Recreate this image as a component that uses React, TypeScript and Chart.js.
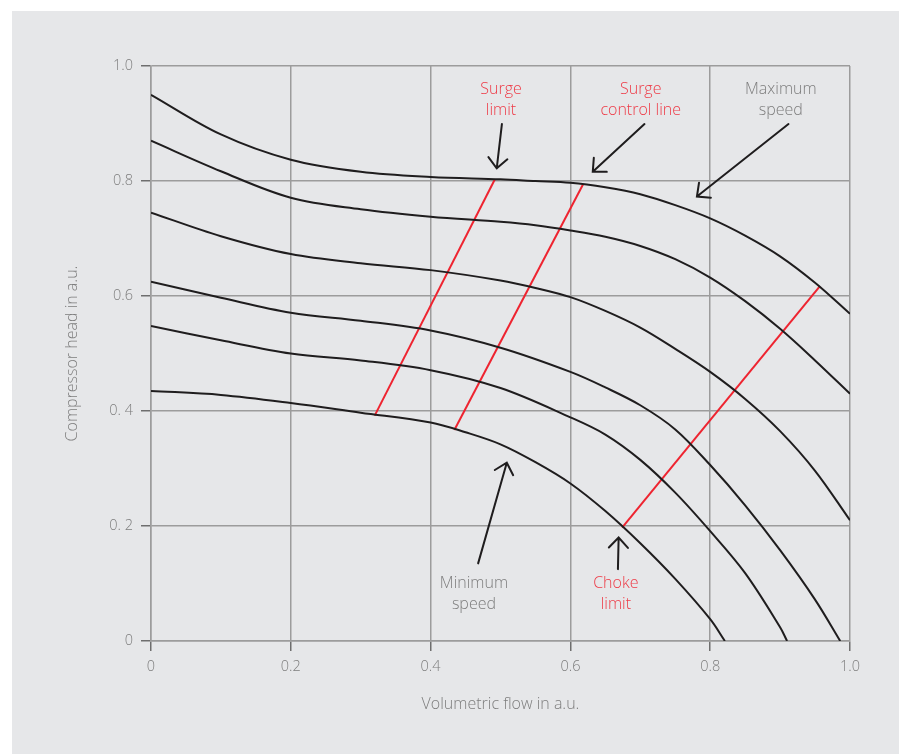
import React, { useEffect, useRef } from "react";
import { Chart, registerables } from "chart.js";

Chart.register(...registerables);

// ---- axis ticks ----
const X_TICKS = [0, 0.2, 0.4, 0.6, 0.8, 1.0];
const X_TICK_LABELS = ["0", "0.2", "0.4", "0.6", "0.8", "1.0"];
const Y_TICKS = [0, 0.2, 0.4, 0.6, 0.8, 1.0];
const Y_TICK_LABELS = ["0", "0. 2", "0. 4", "0.6", "0.8", "1.0"];
const X_TITLE = "Volumetric flow in a.u.";
const Y_TITLE = "Compressor head in a.u.";

// ---- speed curves (flow, head) ----
const FLOW_FULL = [0, 0.1, 0.2, 0.3, 0.4, 0.5, 0.55, 0.6, 0.65, 0.7, 0.75, 0.8, 0.85, 0.9, 0.95, 1.0];
const HEAD_MAX = [0.95, 0.881, 0.837, 0.816, 0.807, 0.803, 0.8, 0.797, 0.789, 0.777, 0.758, 0.735, 0.705, 0.669, 0.623, 0.569];
const HEAD_2 = [0.87, 0.817, 0.771, 0.751, 0.738, 0.729, 0.723, 0.714, 0.703, 0.687, 0.664, 0.632, 0.591, 0.543, 0.488, 0.43];
const HEAD_3 = [0.745, 0.704, 0.673, 0.657, 0.645, 0.627, 0.614, 0.598, 0.574, 0.545, 0.508, 0.468, 0.421, 0.365, 0.296, 0.21];

const FLOW_4 = [0, 0.1, 0.2, 0.3, 0.4, 0.5, 0.6, 0.65, 0.7, 0.75, 0.8, 0.85, 0.9, 0.95, 0.986];
const HEAD_4 = [0.625, 0.597, 0.571, 0.557, 0.54, 0.51, 0.468, 0.441, 0.41, 0.368, 0.306, 0.236, 0.158, 0.072, 0];

const FLOW_5 = [0, 0.1, 0.2, 0.3, 0.4, 0.5, 0.6, 0.65, 0.7, 0.75, 0.8, 0.85, 0.9, 0.91];
const HEAD_5 = [0.548, 0.523, 0.5, 0.488, 0.471, 0.44, 0.389, 0.359, 0.315, 0.258, 0.191, 0.118, 0.024, 0];

const FLOW_MIN = [0, 0.1, 0.2, 0.3, 0.4, 0.45, 0.5, 0.55, 0.6, 0.65, 0.7, 0.75, 0.8, 0.821];
const HEAD_MIN = [0.435, 0.428, 0.414, 0.397, 0.38, 0.363, 0.342, 0.311, 0.274, 0.226, 0.17, 0.108, 0.038, 0];

// ---- red limit lines ----
const SURGE_LIMIT_X = [0.32, 0.492];
const SURGE_LIMIT_Y = [0.392, 0.803];
const SURGE_CONTROL_X = [0.434, 0.618];
const SURGE_CONTROL_Y = [0.367, 0.794];
const CHOKE_X = [0.674, 0.957];
const CHOKE_Y = [0.197, 0.617];

// ---- annotation arrows (tail -> tip) ----
const ARROW_TAIL_X = [0.502, 0.706, 0.912, 0.468, 0.668];
const ARROW_TAIL_Y = [0.899, 0.899, 0.899, 0.135, 0.125];
const ARROW_TIP_X = [0.4946, 0.632, 0.781, 0.509, 0.669];
const ARROW_TIP_Y = [0.822, 0.816, 0.773, 0.31, 0.18];

// ---- annotation labels ----
const LABEL_TEXT = [
  ["Surge", "limit"],
  ["Surge", "control line"],
  ["Maximum", "speed"],
  ["Minimum", "speed"],
  ["Choke", "limit"],
];
const LABEL_X = [0.5007, 0.7006, 0.901, 0.462, 0.665];
const LABEL_Y = [0.9585, 0.9585, 0.9585, 0.0995, 0.0995];
const LABEL_IS_RED = [true, true, false, false, true];

const FONT = "'Open Sans', Lato, sans-serif";
const RED = "#ee2430";
const RED_TEXT = "#ee3a46";
const GRAY_TEXT = "#7d7d7d";
const CURVE = "#1f1d1e";

const zip = (xs: number[], ys: number[]) => xs.map((x, i) => ({ x, y: ys[i] }));

const annotationPlugin = {
  id: "annotations",
  afterDatasetsDraw(chart: any) {
    const { ctx } = chart;
    const xs = chart.scales.x;
    const ys = chart.scales.y;
    ctx.save();
    ctx.strokeStyle = CURVE;
    ctx.lineWidth = 2;
    ctx.lineCap = "round";
    for (let i = 0; i < ARROW_TAIL_X.length; i++) {
      const x1 = xs.getPixelForValue(ARROW_TAIL_X[i]);
      const y1 = ys.getPixelForValue(ARROW_TAIL_Y[i]);
      const x2 = xs.getPixelForValue(ARROW_TIP_X[i]);
      const y2 = ys.getPixelForValue(ARROW_TIP_Y[i]);
      ctx.beginPath();
      ctx.moveTo(x1, y1);
      ctx.lineTo(x2, y2);
      const ang = Math.atan2(y1 - y2, x1 - x2);
      const len = 14;
      const spread = (43 * Math.PI) / 180;
      ctx.moveTo(x2 + len * Math.cos(ang - spread), y2 + len * Math.sin(ang - spread));
      ctx.lineTo(x2, y2);
      ctx.lineTo(x2 + len * Math.cos(ang + spread), y2 + len * Math.sin(ang + spread));
      ctx.stroke();
    }
    ctx.font = `300 16px ${FONT}`;
    ctx.textAlign = "center";
    ctx.textBaseline = "middle";
    const lineGap = ys.getPixelForValue(0) - ys.getPixelForValue(0.0365);
    for (let i = 0; i < LABEL_TEXT.length; i++) {
      const px = xs.getPixelForValue(LABEL_X[i]);
      const py = ys.getPixelForValue(LABEL_Y[i]);
      ctx.fillStyle = LABEL_IS_RED[i] ? RED_TEXT : GRAY_TEXT;
      LABEL_TEXT[i].forEach((t, k) => ctx.fillText(t, px, py + k * lineGap));
    }
    ctx.restore();
  },
};

export default function App() {
  const ref = useRef<HTMLCanvasElement | null>(null);

  useEffect(() => {
    if (!ref.current) return;
    const curve = (xs: number[], ys: number[]) => ({
      data: zip(xs, ys),
      showLine: true,
      borderColor: CURVE,
      borderWidth: 2,
      pointRadius: 0,
      tension: 0.35,
      fill: false,
    });
    const red = (xs: number[], ys: number[]) => ({
      data: zip(xs, ys),
      showLine: true,
      borderColor: RED,
      borderWidth: 2,
      pointRadius: 0,
      tension: 0,
      fill: false,
    });
    const gridColor = "#9c9c9c";
    const tickFont = { family: FONT, size: 14.5, weight: 300 as any };
    const titleFont = { family: FONT, size: 16, weight: 300 as any };
    const chart = new Chart(ref.current, {
      type: "scatter",
      data: {
        datasets: [
          curve(FLOW_FULL, HEAD_MAX),
          curve(FLOW_FULL, HEAD_2),
          curve(FLOW_FULL, HEAD_3),
          curve(FLOW_4, HEAD_4),
          curve(FLOW_5, HEAD_5),
          curve(FLOW_MIN, HEAD_MIN),
          red(SURGE_LIMIT_X, SURGE_LIMIT_Y),
          red(SURGE_CONTROL_X, SURGE_CONTROL_Y),
          red(CHOKE_X, CHOKE_Y),
        ] as any,
      },
      options: {
        animation: false,
        responsive: false,
        devicePixelRatio: 1,
        layout: { padding: { top: 55, right: 49, left: 0, bottom: 0 } },
        plugins: { legend: { display: false }, tooltip: { enabled: false } },
        scales: {
          x: {
            type: "linear",
            min: 0,
            max: 1,
            afterBuildTicks: (axis: any) => {
              axis.ticks = X_TICKS.map((v) => ({ value: v }));
            },
            afterFit: (axis: any) => {
              axis.height = 113;
            },
            ticks: {
              callback: (_v: any, i: number) => X_TICK_LABELS[i],
              color: GRAY_TEXT,
              font: tickFont,
              padding: 7,
              maxRotation: 0,
            },
            grid: { color: gridColor, lineWidth: 1.5, tickLength: 10, tickColor: "#6e6e6e", drawTicks: true },
            border: { display: true, color: gridColor, width: 1.5 },
            title: {
              display: true,
              text: X_TITLE,
              color: GRAY_TEXT,
              font: titleFont,
              padding: { top: 0, bottom: 40.4 },
            },
          },
          y: {
            type: "linear",
            min: 0,
            max: 1,
            afterBuildTicks: (axis: any) => {
              axis.ticks = Y_TICKS.map((v) => ({ value: v }));
            },
            afterFit: (axis: any) => {
              axis.width = 139;
            },
            ticks: {
              callback: (_v: any, i: number) => Y_TICK_LABELS[i],
              color: GRAY_TEXT,
              font: tickFont,
              padding: 8,
            },
            grid: { color: gridColor, lineWidth: 1.5, tickLength: 10, tickColor: "#6e6e6e", drawTicks: true },
            border: { display: true, color: gridColor, width: 1.5 },
            title: {
              display: true,
              text: Y_TITLE,
              color: GRAY_TEXT,
              font: titleFont,
              padding: { top: 50.4, bottom: 0 },
            },
          },
        },
      },
      plugins: [annotationPlugin],
    });
    return () => chart.destroy();
  }, []);

  return (
    <div
      style={{
        position: "absolute",
        left: 12,
        top: 11,
        width: 887,
        height: 743,
        background: "#e6e7e9",
      }}
    >
      <canvas ref={ref} width={887} height={743} style={{ display: "block", width: 887, height: 743 }} />
    </div>
  );
}
